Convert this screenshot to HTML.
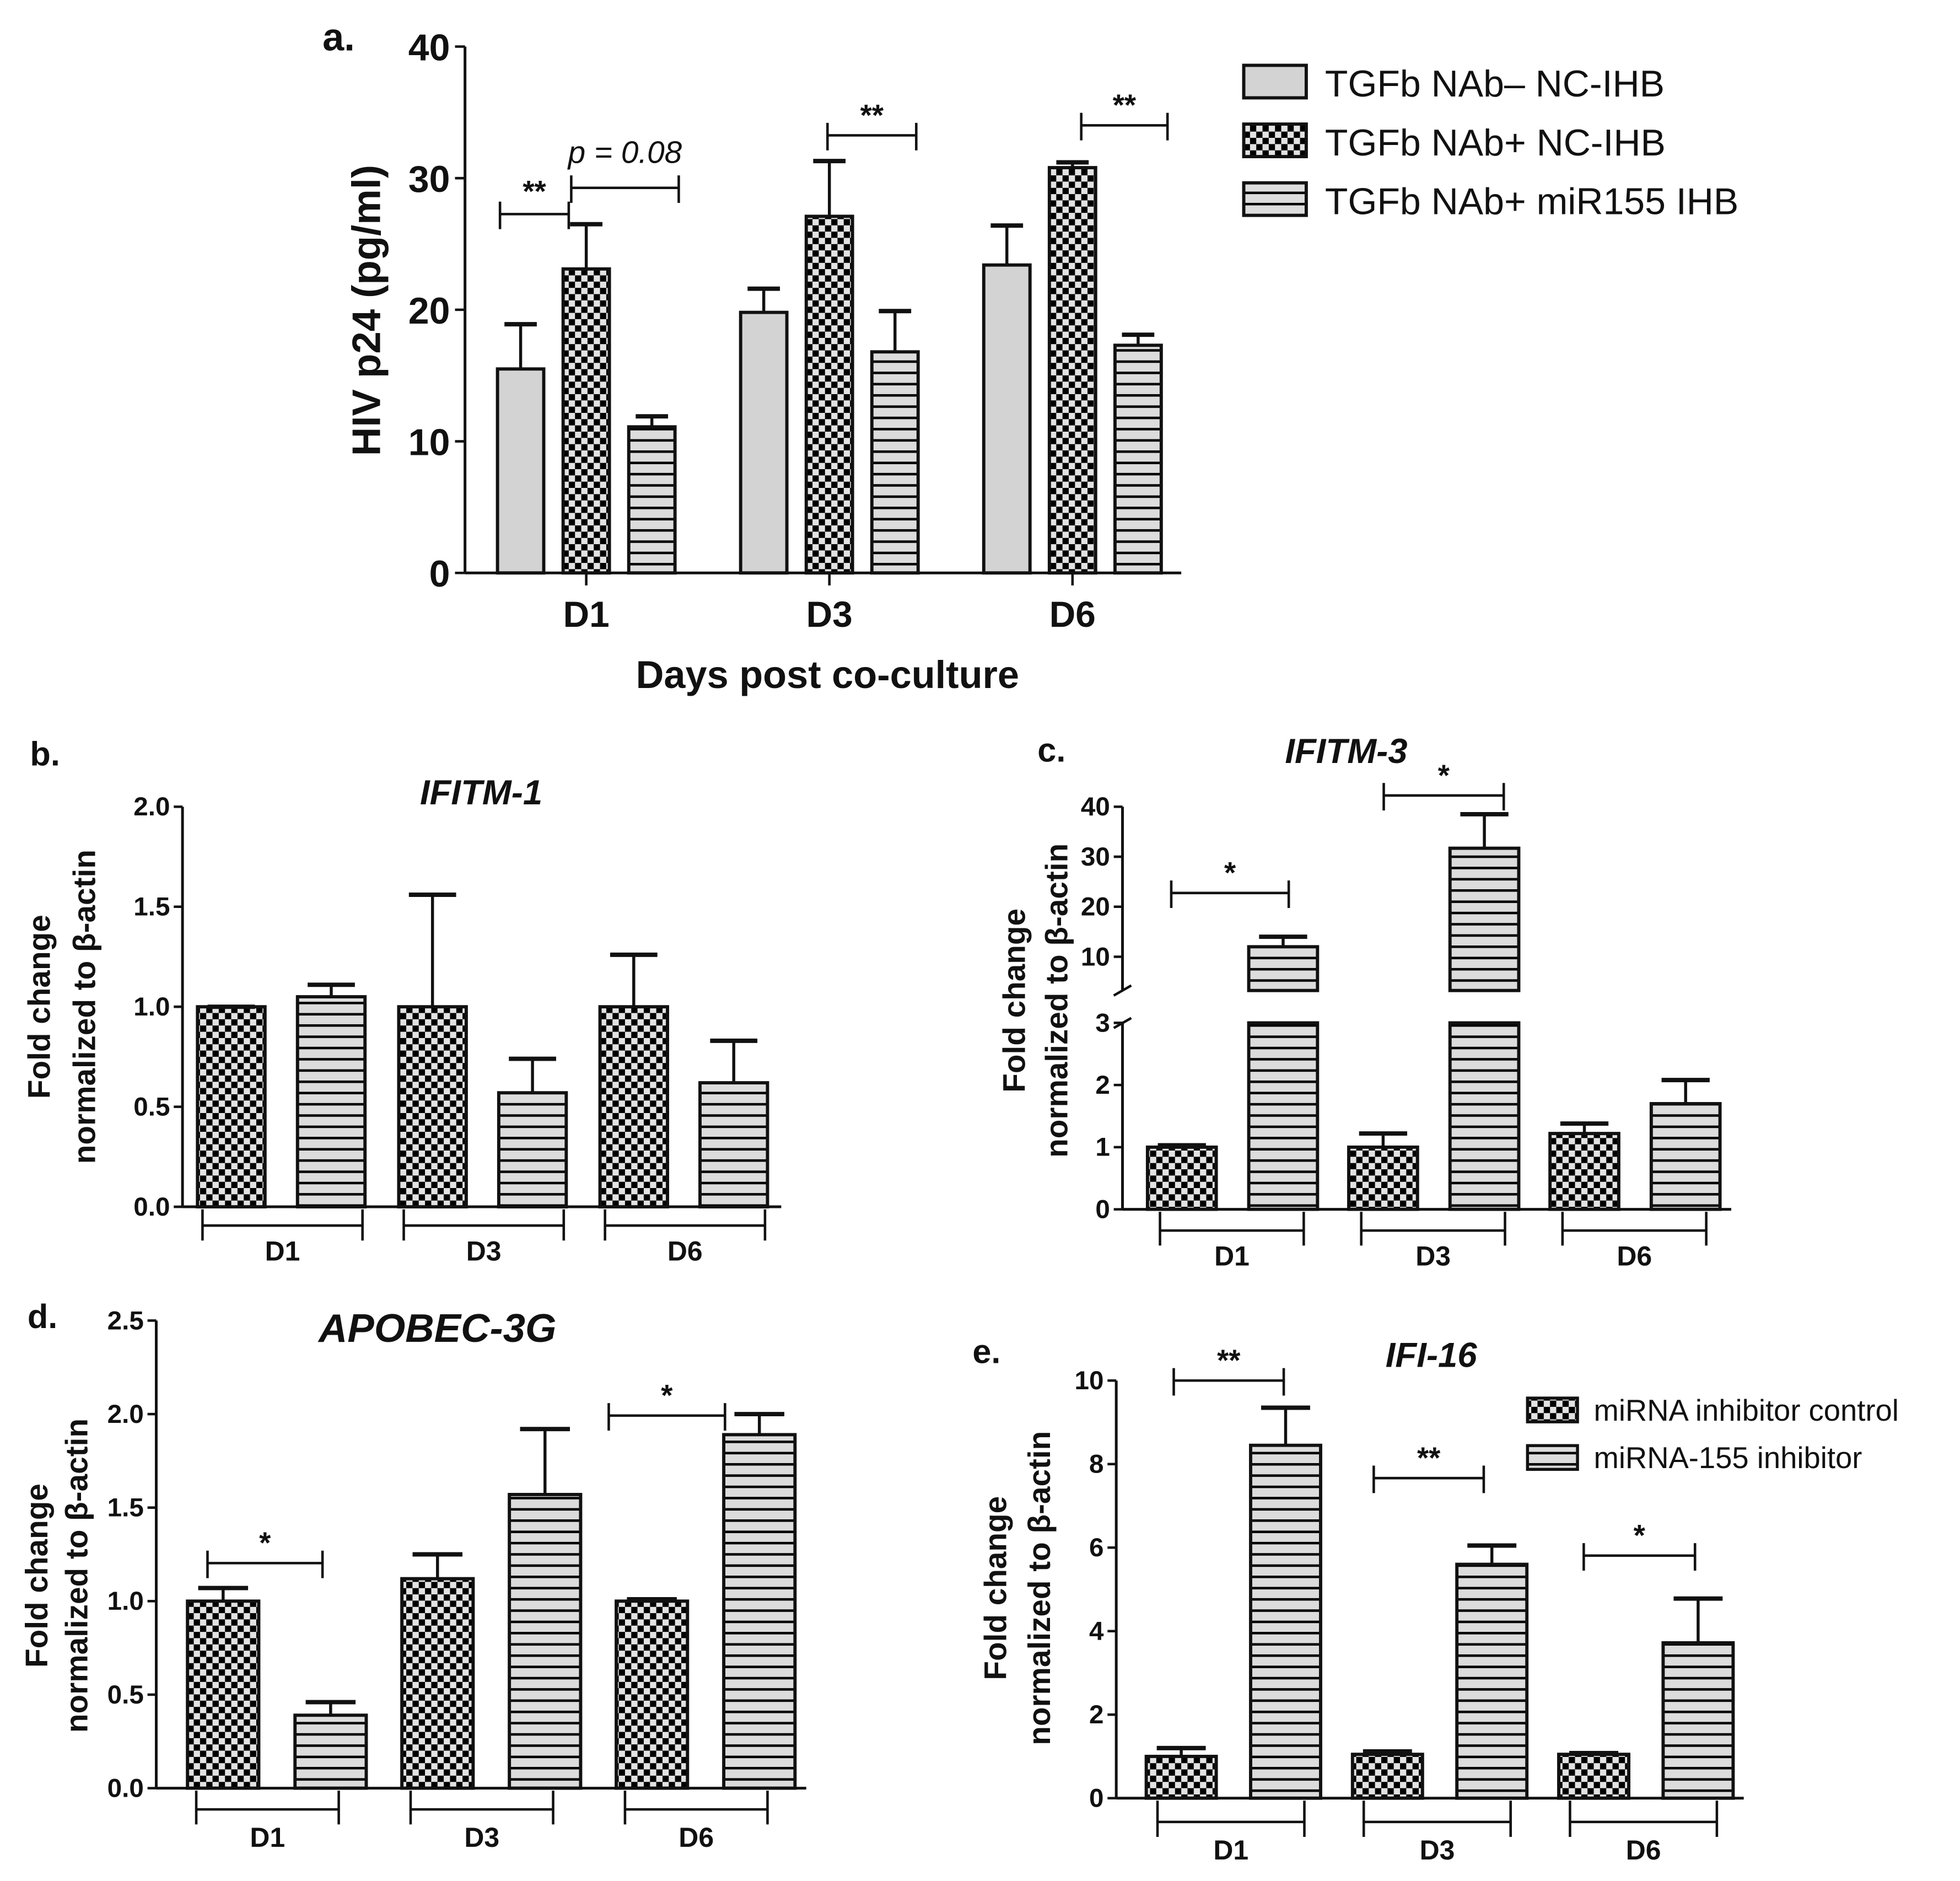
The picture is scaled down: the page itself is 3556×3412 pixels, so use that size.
<!DOCTYPE html>
<html><head><meta charset="utf-8"><style>
html,body{margin:0;padding:0;background:#fff}
svg{display:block}
text{font-family:"Liberation Sans",sans-serif;fill:#111}
</style></head><body>
<svg id="fig" width="3556" height="3412" viewBox="0 0 1568 1504" xmlns="http://www.w3.org/2000/svg">
<defs>
<pattern id="chk" width="10" height="10" patternUnits="userSpaceOnUse"><rect width="10" height="10" fill="#e2e2e2"/><rect width="5" height="5" fill="#000"/><rect x="5" y="5" width="5" height="5" fill="#000"/></pattern>
<pattern id="str" width="10" height="9" patternUnits="userSpaceOnUse"><rect width="10" height="9" fill="#dcdcdc"/><rect y="0" width="10" height="2" fill="#000"/></pattern>
</defs>
<g id="root"></g>
</svg>
<script>
// ---------- DATA ----------
const groups = ["D1","D3","D6"];
const aSeries = ["TGFb NAb\u2013 NC-IHB","TGFb NAb+ NC-IHB","TGFb NAb+ miR155 IHB"];
const aMeans = [[15.5,19.8,23.4],[23.1,27.1,30.8],[11.1,16.8,17.3]];
const aErrs  = [[18.9,21.6,26.4],[26.5,31.3,31.2],[11.9,19.9,18.1]];
const aTicks = [0,10,20,30,40];
const bMeans = [[1.0,1.0,1.0],[1.05,0.57,0.62]];
const bErrs  = [[1.0,1.56,1.26],[1.11,0.74,0.83]];
const bTicks = ["0.0","0.5","1.0","1.5","2.0"];
const cMeans = [[1.0,1.0,1.22],[12,31.7,1.7]];
const cErrs  = [[1.03,1.22,1.38],[14,38.5,2.08]];
const cTicksLow = [0,1,2,3];
const cTicksHigh = [10,20,30,40];
const dMeans = [[1.0,1.12,1.0],[0.39,1.57,1.89]];
const dErrs  = [[1.07,1.25,1.01],[0.46,1.92,2.0]];
const dTicks = ["0.0","0.5","1.0","1.5","2.0","2.5"];
const eMeans = [[1.0,1.05,1.05],[8.45,5.6,3.72]];
const eErrs  = [[1.2,1.12,1.08],[9.35,6.05,4.78]];
const eTicks = [0,2,4,6,8,10];
const eSeries = ["miRNA inhibitor control","miRNA-155 inhibitor"];

const NS="http://www.w3.org/2000/svg";
const root=document.getElementById('root');
function mk(tag,attrs,parent,txt){const e=document.createElementNS(NS,tag);for(const k in attrs)e.setAttribute(k,attrs[k]);if(txt!==undefined)e.textContent=txt;(parent||root).appendChild(e);return e;}
function line(x1,y1,x2,y2,w,p){return mk('line',{x1,y1,x2,y2,stroke:'#111','stroke-width':w||2.2},p);}
function txt(x,y,s,size,opts,p){opts=opts||{};const t=mk('text',{x,y,'font-size':size,'font-weight':opts.w||'bold','text-anchor':opts.a||'middle','font-style':opts.i?'italic':'normal'},p,s);if(opts.r)t.setAttribute('transform','rotate(-90 '+x+' '+y+')');return t;}

function bar(g,x,w,ytop,ybot,fill,yerr,name){
  const r=mk('rect',{x,y:ytop,width:w,height:ybot-ytop,fill,stroke:'#111','stroke-width':2.6},g);
  
  
  const cx=x+w/2;
  line(cx,ytop,cx,yerr,2.4,g);
  line(x+w*0.15,yerr,x+w*0.85,yerr,3.5,g);
}
function sig(g,x1,x2,y,label,italic,dy){
  line(x1,y,x2,y,2,g);line(x1,y-10,x1,y+12,2,g);line(x2,y-10,x2,y+12,2,g);
  const t=txt((x1+x2)/2,y-(dy||8),label,italic?25:24,{w:italic?'normal':'bold',i:italic},g);
  
  
}
function yAxis(g,ax,ytop,ybot){line(ax,ytop,ax,ybot,2.2,g);}

// ---------- PANEL A ----------
(function(){
  const g=mk('g',{});
  
  
  const ax=372,y0=458,yTop=37;
  const ys=v=>y0-(v/40)*(y0-yTop);
  const xb=(gi,si)=>398+gi*194.5+si*52.5;
  const fills=['#d3d3d3','url(#chk)','url(#str)'];
  yAxis(g,ax,yTop,y0);line(ax,y0,945,y0,2.2,g);
  aTicks.forEach(t=>{line(ax-8,ys(t),ax,ys(t),2,g);txt(ax-12,ys(t)+11,String(t),30,{a:'end'},g);});
  groups.forEach((gn,gi)=>{
    const cx=xb(gi,1)+18.5;line(cx,y0,cx,y0+10,2,g);
    const l=txt(cx,y0+43,gn,29,{},g);
    
    
    aSeries.forEach((s,si)=>bar(g,xb(gi,si),37,ys(aMeans[si][gi]),y0,fills[si],ys(aErrs[si][gi]),'bar-a-'+gn+'-'+si));
  });
  sig(g,400,455,171,'**',false,10);sig(g,457,543,150,'p = 0.08',true,20);sig(g,662,733,108,'**',false,8);sig(g,865,934,100,'**',false,8);
  const yl=txt(304,248,'HIV p24 (pg/ml)',32,{r:true},g);
  
  
  const xl=txt(662,550,'Days post co-culture',31,{},g);
  
  
  txt(258,40,'a.',31,{a:'start'},g);
  aSeries.forEach((s,si)=>{
    const y=52+si*47;
    const r=mk('rect',{x:995,y,width:50,height:26,fill:fills[si],stroke:'#111','stroke-width':2.6},g);
    
    
    const t=txt(1060,y+25,s,30,{a:'start',w:'normal'},g);
    
    
  });
})();

// ---------- generic small panel ----------
function small(cfg){
  const g=mk('g',{});
  
  
  const fills=['url(#chk)','url(#str)'];
  line(cfg.ax,cfg.y0,cfg.xend,cfg.y0,2.2,g);
  if(!cfg.broken){yAxis(g,cfg.ax,cfg.ys(cfg.max),cfg.y0);
    cfg.ticks.forEach(t=>{const v=parseFloat(t);line(cfg.ax-7,cfg.ys(v),cfg.ax,cfg.ys(v),2,g);txt(cfg.ax-10,cfg.ys(v)+7,String(t),21,{a:'end'},g);});}
  groups.forEach((gn,gi)=>{
    const x0=cfg.xb(gi,0),x1=cfg.xb(gi,1)+cfg.w;
    const bl=x0+cfg.bk[0],br=x1+cfg.bk[1],by=cfg.y0+cfg.bkY;
    line(bl,by,br,by,2,g);line(bl,cfg.y0+2,bl,by+12,2,g);line(br,cfg.y0+2,br,by+12,2,g);
    const l=txt((bl+br)/2,by+cfg.lblDy,gn,22,{},g);
    
    
    [0,1].forEach(si=>{
      const m=cfg.means[si][gi],e=cfg.errs[si][gi];
      if(cfg.broken&&m>3){
        const x=cfg.xb(gi,si);
        const r=mk('rect',{x,y:cfg.ys(3),width:cfg.w,height:cfg.y0-cfg.ys(3),fill:fills[si],stroke:'#111','stroke-width':2.6},g);
        
        
        bar(g,x,cfg.w,cfg.ys(m),cfg.breakTop,fills[si],cfg.ys(e),'bar-'+cfg.name+'-'+gn+'-'+si);
      } else bar(g,cfg.xb(gi,si),cfg.w,cfg.ys(m),cfg.y0,fills[si],cfg.ys(e),'bar-'+cfg.name+'-'+gn+'-'+si);
    });
  });
  const t=txt(cfg.title[0],cfg.title[1],cfg.title[2],cfg.title[3],{i:true},g);
  
  
  txt(cfg.letter[0],cfg.letter[1],cfg.letter[2],27,{a:'start'},g);
  const y1=txt(cfg.yl[0],cfg.yl[2],'Fold change',25,{r:true},g);
  
  
  const y2=txt(cfg.yl[1],cfg.yl[2],'normalized to \u03b2-actin',25,{r:true},g);
  
  
  (cfg.sigs||[]).forEach(s=>sig(g,s[0],s[1],s[2],s[3]));
  return g;
}

small({name:'panel-b',ax:146,y0:965,xend:625,max:2,ys:v=>965-v*160,ticks:bTicks,
  xb:(gi,si)=>158+gi*161+si*80,w:54,means:bMeans,errs:bErrs,bk:[4,-2],bkY:15,lblDy:28,
  title:[385,643,'IFITM-1',28],letter:[24,612,'b.'],yl:[40,76,805]});

const cg=small({name:'panel-c',ax:898,y0:967,xend:1385,broken:true,breakTop:792,
  ys:v=>v<=3.2?967-v*49.7:765-(v-10)*4,ticks:[],
  xb:(gi,si)=>918+gi*161+si*81,w:55,means:cMeans,errs:cErrs,bk:[10,-11],bkY:17,lblDy:28,
  title:[1077,610,'IFITM-3',28],letter:[830,609,'c.'],yl:[820,854,800],
  sigs:[[937,1031,714,'*'],[1107,1203,636,'*']]});
(function(){
  const ax=898,ysL=v=>967-v*49.7,ysH=v=>765-(v-10)*4;
  line(ax,967,ax,818,2.2,cg);line(ax,792,ax,645,2.2,cg);
  line(ax-7,796,ax+7,788,2,cg);line(ax-7,822,ax+7,814,2,cg);
  cTicksLow.forEach(t=>{line(ax-7,ysL(t),ax,ysL(t),2,cg);txt(ax-10,ysL(t)+7,String(t),21,{a:'end'},cg);});
  cTicksHigh.forEach(t=>{line(ax-7,ysH(t),ax,ysH(t),2,cg);txt(ax-10,ysH(t)+7,String(t),21,{a:'end'},cg);});
})();

small({name:'panel-d',ax:125,y0:1430,xend:645,max:2.5,ys:v=>1430-v*149.6,ticks:dTicks,
  xb:(gi,si)=>150+gi*171.5+si*86,w:57,means:dMeans,errs:dErrs,bk:[7,-22],bkY:17,lblDy:30,
  title:[350,1073,'APOBEC-3G',32],letter:[22,1062,'d.'],yl:[38,70,1260],
  sigs:[[166,258,1250,'*'],[487,580,1132,'*']]});

const eg=small({name:'panel-e',ax:893,y0:1438,xend:1395,max:10,ys:v=>1438-v*33.4,ticks:eTicks,
  xb:(gi,si)=>917+gi*165+si*83.5,w:56,means:eMeans,errs:eErrs,bk:[9,-13],bkY:19,lblDy:30,
  title:[1145,1093,'IFI-16',28],letter:[778,1090,'e.'],yl:[805,840,1270],
  sigs:[[939,1027,1104,'**'],[1099,1187,1182,'**'],[1267,1356,1244,'*']]});
eSeries.forEach((s,si)=>{
  const y=1118+si*38;
  const r=mk('rect',{x:1222,y,width:40,height:19,fill:si?'url(#str)':'url(#chk)',stroke:'#111','stroke-width':2.4},eg);
  
  
  const t=txt(1275,y+18,s,24,{a:'start',w:'normal'},eg);
  
  
});
</script>
</body></html>
